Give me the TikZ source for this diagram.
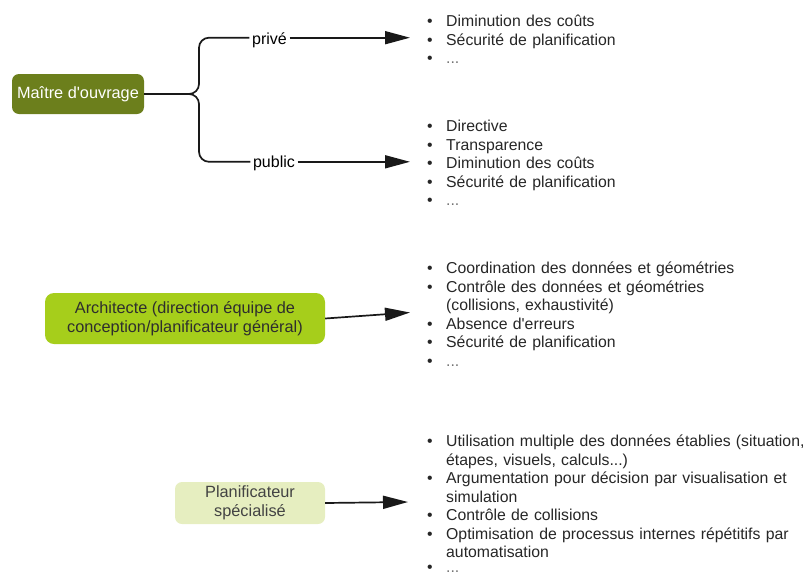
\documentclass[tikz,border=0pt]{standalone}
\usepackage{fontspec}
\setmainfont{Liberation Sans}
\usetikzlibrary{arrows.meta}
\definecolor{olivebox}{HTML}{6C7F1C}
\definecolor{limebox}{HTML}{A6CE1B}
\definecolor{palebox}{HTML}{E6EEC0}
\definecolor{darktext}{HTML}{2E2E2E}
\newcommand\bul{\par\hangindent=19pt\hangafter=1\noindent\makebox[19pt][l]{\textbullet}}
\newcommand\etcdots{\textcolor{black!55}{...}}
\begin{document}
\begin{tikzpicture}[x=1pt,y=-1pt,
  box/.style={rounded corners=7pt, inner sep=0pt, align=center, font=\fontsize{16.3pt}{19pt}\selectfont},
  lbl/.style={inner sep=2.5pt, fill=white, font=\fontsize{16pt}{19pt}\selectfont},
  lst/.style={anchor=north west, inner sep=0pt, text width=385pt, align=left, font=\fontsize{15.8pt}{18.5pt}\selectfont, text=black!85},
  conn/.style={line width=1.7pt, black!90},
  arr/.style={conn, -{Triangle[length=25pt,width=13pt]}}]
\useasboundingbox (0,0) rectangle (806,576);

% boxes
\node[box, fill=olivebox, text=white, minimum width=132pt, minimum height=40pt] (m) at (78,94) {Maître d\textquotesingle ouvrage};
\node[box, fill=limebox, text=darktext, rounded corners=9pt, minimum width=280pt, minimum height=51pt] (arch) at (185,318.5) {Architecte (direction équipe de\\conception/planificateur général)};
\node[box, fill=palebox, text=darktext!90, minimum width=150pt, minimum height=42pt] (plan) at (250,503) {Planificateur\\spécialisé};

% labels
\node[lbl, anchor=base] (prive) at (269.5,44.8) {privé};
\node[lbl, anchor=base] (public) at (274,167.7) {public};

% arrow ends
\coordinate (t1) at (410,37.7);
\coordinate (t2) at (410,161.8);
\coordinate (t3) at (410,312.5);
\coordinate (t4) at (408,502);

% connectors
\draw[conn, rounded corners=10pt] (m.east) -- (199,94) -- (199,37.7) -- (prive.west |- t1);
\draw[arr] (prive.east |- t1) -- (t1);
\draw[conn, rounded corners=10pt] (m.east) -- (199,94) -- (199,161.8) -- (public.west |- t2);
\draw[arr] (public.east |- t2) -- (t2);
\draw[arr] (arch.east) -- (t3);
\draw[arr] (plan.east) -- (t4);

% lists
\node[lst] (l1) at (427,8) {\bul\strut Diminution des coûts
\bul Sécurité de planification
\bul \etcdots};
\node[lst] (l2) at (427,113) {\bul\strut Directive
\bul Transparence
\bul Diminution des coûts
\bul Sécurité de planification
\bul \etcdots};
\node[lst] (l3) at (427,255) {\bul\strut Coordination des données et géométries
\bul Contrôle des données et géométries\newline (collisions, exhaustivité)
\bul Absence d\textquotesingle erreurs
\bul Sécurité de planification
\bul \etcdots};
\node[lst] (l4) at (427,428) {\bul\strut Utilisation multiple des données établies (situation,\newline étapes, visuels, calculs...)
\bul Argumentation pour décision par visualisation et\newline simulation
\bul Contrôle de collisions
\bul Optimisation de processus internes répétitifs par\newline automatisation
\par\vspace{-4pt}\bul \etcdots};
\end{tikzpicture}
\end{document}
